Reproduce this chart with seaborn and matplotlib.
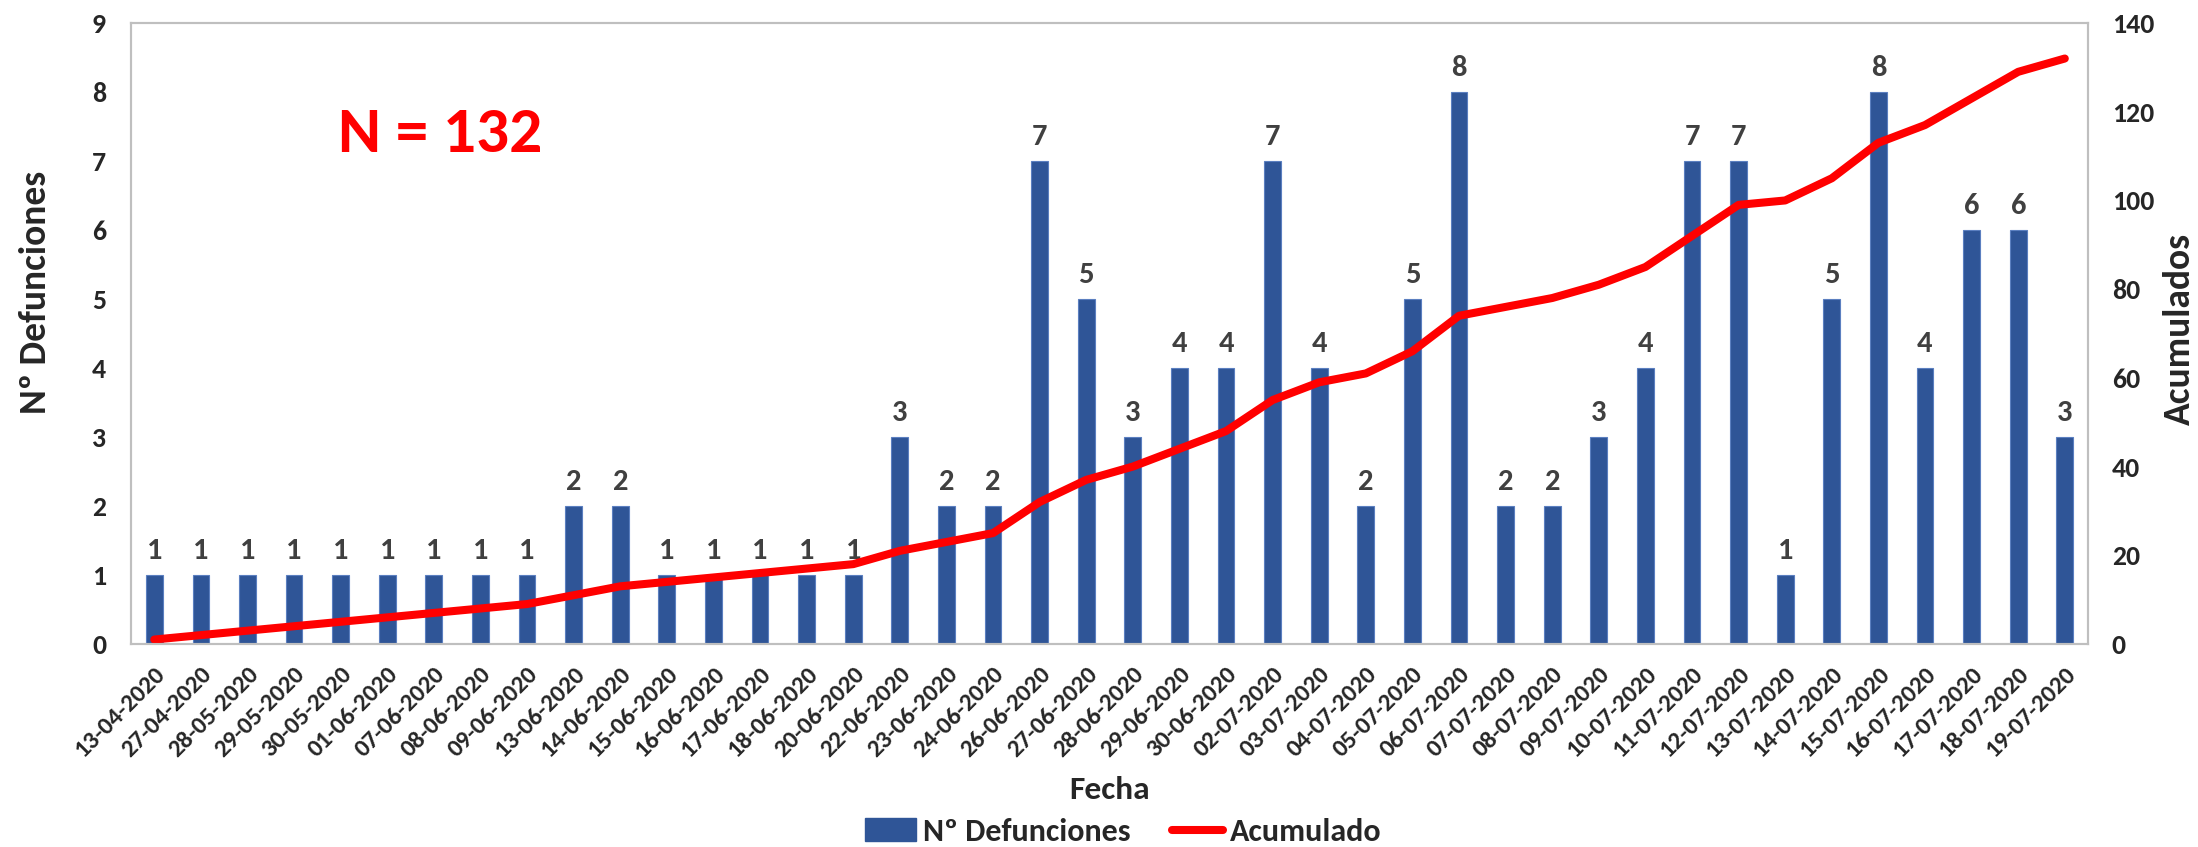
import numpy as np
import pandas as pd
import matplotlib
matplotlib.use("Agg")
import matplotlib.pyplot as plt
from matplotlib.patches import Patch
from matplotlib.lines import Line2D
import seaborn as sns

# data
fechas = ["13-04-2020", "27-04-2020", "28-05-2020", "29-05-2020", "30-05-2020",
          "01-06-2020", "07-06-2020", "08-06-2020", "09-06-2020", "13-06-2020",
          "14-06-2020", "15-06-2020", "16-06-2020", "17-06-2020", "18-06-2020",
          "20-06-2020", "22-06-2020", "23-06-2020", "24-06-2020", "26-06-2020",
          "27-06-2020", "28-06-2020", "29-06-2020", "30-06-2020", "02-07-2020",
          "03-07-2020", "04-07-2020", "05-07-2020", "06-07-2020", "07-07-2020",
          "08-07-2020", "09-07-2020", "10-07-2020", "11-07-2020", "12-07-2020",
          "13-07-2020", "14-07-2020", "15-07-2020", "16-07-2020", "17-07-2020",
          "18-07-2020", "19-07-2020"]
defunciones = [1, 1, 1, 1, 1, 1, 1, 1, 1, 2,
               2, 1, 1, 1, 1, 1, 3, 2, 2, 7,
               5, 3, 4, 4, 7, 4, 2, 5, 8, 2,
               2, 3, 4, 7, 7, 1, 5, 8, 4, 6,
               6, 3]

df = pd.DataFrame({"fecha": fechas, "defunciones": defunciones})
df["acumulado"] = df["defunciones"].cumsum()
df["pos"] = np.arange(len(df))

BLUE = "#2F5597"
RED = "#FF0000"
LW = 5.8

sns.set_style("white")
# Carlito = metric clone of Calibri (Excel default)
plt.rcParams["font.family"] = ["Carlito", "DejaVu Sans"]
plt.rcParams["font.weight"] = "bold"

fig = plt.figure(figsize=(21.98, 8.47), dpi=100)
ax = fig.add_axes([0.0596, 0.2397, 0.8904, 0.7331])

# 1. bars
sns.barplot(data=df, x="fecha", y="defunciones", color=BLUE, width=0.36,
            saturation=1, edgecolor="#5B7FC0", linewidth=0.8, ax=ax)
ax.bar_label(ax.containers[0], padding=8, fontsize=22, fontweight="bold", color="#404040")
ax.set_ylim(0, 9)
ax.set_xlim(-0.5, len(df) - 0.5)
ax.set_yticks(range(0, 10))
ax.set_xlabel("")
ax.set_ylabel("Nº Defunciones", fontsize=27, fontweight="bold")
ax.tick_params(axis="y", length=0, pad=18, labelsize=20)
ax.tick_params(axis="x", length=0, pad=14, labelsize=18)
plt.setp(ax.get_xticklabels(), rotation=45, ha="right", rotation_mode="anchor",
         fontweight="bold")
plt.setp(ax.get_yticklabels(), fontweight="bold")

# 2. cumulative line on the secondary axis
ax2 = ax.twinx()
sns.lineplot(data=df, x="pos", y="acumulado", color=RED, linewidth=LW,
             solid_capstyle="round", solid_joinstyle="round", ax=ax2)
ax2.set_ylim(0, 140)
ax2.set_xlim(-0.5, len(df) - 0.5)
ax2.set_yticks(range(0, 141, 20))
ax2.set_xlabel("")
ax2.set_ylabel("Acumulados", fontsize=27, fontweight="bold")
ax2.tick_params(axis="y", length=0, pad=17, labelsize=20)
plt.setp(ax2.get_yticklabels(), fontweight="bold")

ax.yaxis.set_label_coords(-0.049, 0.567)
ax2.yaxis.set_label_coords(1.0465, 0.507)
ax.yaxis.label.set_va("center")
ax2.yaxis.label.set_va("center")

for a in (ax, ax2):
    for sp in a.spines.values():
        sp.set_color("#BFBFBF")
        sp.set_linewidth(1.5)

ax.text(0.158, 0.82, f"N = {df['defunciones'].sum()}", transform=ax.transAxes,
        fontsize=47, fontweight="bold", color=RED, ha="center", va="center")

fig.text(0.505, 0.067, "Fecha", fontsize=24, fontweight="bold", ha="center", va="center")

# 3. legend
handles = [Patch(facecolor=BLUE, edgecolor=BLUE),
           Line2D([0], [0], color=RED, linewidth=LW, solid_capstyle="round")]
fig.legend(handles, ["Nº Defunciones", "Acumulado"], loc="center",
           bbox_to_anchor=(0.511, 0.018), ncol=2, frameon=False,
           prop={"size": 23, "weight": "bold"}, handlelength=1.6,
           handletextpad=0.2, columnspacing=1.3, borderpad=0)

fig.savefig("out.png", dpi=100)
